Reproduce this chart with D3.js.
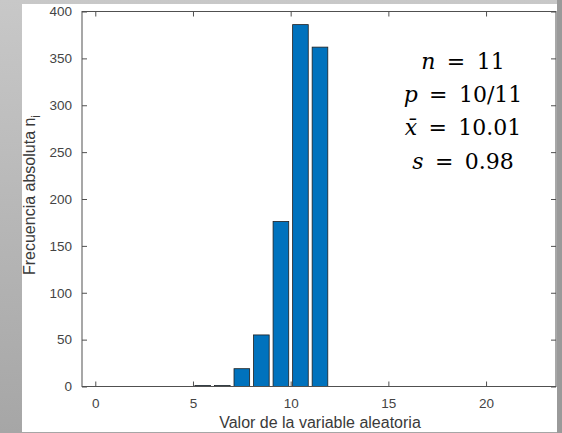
<!DOCTYPE html>
<html lang="es">
<head>
  <meta charset="UTF-8">
  <title>Frecuencia absoluta</title>
  <script src="https://d3js.org/d3.v7.min.js"></script>
  <style>
    body { margin: 0; background: #b4b4b4; }
    svg { display: block; }
    .tick text { font-family: 'Liberation Sans', Arial, sans-serif; font-size: 13.5px; fill: #444; }
    .axis-label { font-family: 'Liberation Sans', Arial, sans-serif; font-size: 16px; fill: #3a3a3a; }
    .stats { font-family: 'DejaVu Serif', 'Liberation Serif', serif; font-size: 22px; fill: #000; }
  </style>
</head>
<body>
  <svg width="562" height="433"></svg>
  <script>
    // valores de la variable y frecuencias absolutas
    const valores = [5, 6, 7, 8, 9, 10, 11];
    const frecuencias = [1, 1, 19, 55, 176, 386, 362];
    const xTicks = [0, 5, 10, 15, 20];
    const yTicks = [0, 50, 100, 150, 200, 250, 300, 350, 400];
    const statLines = [
      [["n", true], [" \u2009=\u2009 11", false]],
      [["p", true], [" \u2009=\u2009 10/11", false]],
      [["x\u0304", true], [" \u2009=\u2009 10.01", false]],
      [["s", true], [" \u2009=\u2009 0.98", false]]
    ];

    const svg = d3.select("svg");

    // fondo: degradado gris y zona blanca de la figura
    const defs = svg.append("defs");
    const grad = defs.append("linearGradient").attr("id", "bg")
      .attr("x1", 0).attr("y1", 0).attr("x2", 0).attr("y2", 1);
    grad.append("stop").attr("offset", "0%").attr("stop-color", "#c8c8c8");
    grad.append("stop").attr("offset", "100%").attr("stop-color", "#a6a6a6");
    svg.append("rect").attr("width", 562).attr("height", 433).attr("fill", "url(#bg)");
    svg.append("rect").attr("x", 22).attr("y", 4).attr("width", 535).attr("height", 428).attr("fill", "#fff");
    svg.append("rect").attr("x", 557).attr("y", 0).attr("width", 5).attr("height", 433).attr("fill", "#9a9a9a");

    const pLeft = 82, pRight = 556, pTop = 11.5, pBottom = 386.5;
    const x = d3.scaleLinear().domain([-0.68, 23.58]).range([pLeft, pRight]);
    const y = d3.scaleLinear().domain([0, 400]).range([pBottom, pTop]);

    // barras
    svg.append("g").selectAll("rect")
      .data(valores)
      .join("rect")
      .attr("x", (d) => x(d + 0.1))
      .attr("width", x(0.8) - x(0))
      .attr("y", (d, i) => y(frecuencias[i]))
      .attr("height", (d, i) => y(0) - y(frecuencias[i]))
      .attr("fill", "#0072bd")
      .attr("stroke", "#1f1f1f")
      .attr("stroke-width", 0.8);

    // ejes con marcas hacia dentro (estilo MATLAB)
    const axisColor = "#505050";
    const gx = svg.append("g").attr("transform", `translate(0,${pBottom})`)
      .call(d3.axisBottom(x).tickValues(xTicks).tickSize(-5).tickPadding(12));
    const gy = svg.append("g").attr("transform", `translate(${pLeft},0)`)
      .call(d3.axisLeft(y).tickValues(yTicks).tickSize(-5).tickPadding(10));
    const gt = svg.append("g").attr("transform", `translate(0,${pTop})`)
      .call(d3.axisTop(x).tickValues(xTicks).tickSize(-5).tickFormat(""));
    const gr = svg.append("g").attr("transform", `translate(${pRight},0)`)
      .call(d3.axisRight(y).tickValues(yTicks).tickSize(-5).tickFormat(""));
    [gx, gy, gt, gr].forEach((g) => {
      g.select(".domain").remove();
      g.selectAll(".tick line").attr("stroke", axisColor);
    });
    svg.append("rect")
      .attr("x", pLeft).attr("y", pTop)
      .attr("width", pRight - pLeft).attr("height", pBottom - pTop)
      .attr("fill", "none").attr("stroke", axisColor).attr("stroke-width", 1);

    // etiquetas de los ejes
    svg.append("text").attr("class", "axis-label")
      .attr("x", (pLeft + pRight) / 2 + 1).attr("y", 428)
      .attr("text-anchor", "middle")
      .text("Valor de la variable aleatoria");

    const yl = svg.append("text").attr("class", "axis-label")
      .attr("transform", `translate(35,${(pTop + pBottom) / 2 - 4}) rotate(-90)`)
      .attr("text-anchor", "middle");
    yl.append("tspan").text("Frecuencia absoluta n");
    yl.append("tspan").attr("dy", 5).attr("font-size", "12px").text("i");

    // estadísticos
    const st = svg.append("text").attr("class", "stats").attr("text-anchor", "middle");
    statLines.forEach((line, i) => {
      const row = st.append("tspan").attr("x", 463).attr("y", 69 + i * 33.2);
      line.forEach(([txt, it]) => {
        row.append("tspan").attr("font-style", it ? "italic" : "normal").text(txt);
      });
    });
  </script>
</body>
</html>
